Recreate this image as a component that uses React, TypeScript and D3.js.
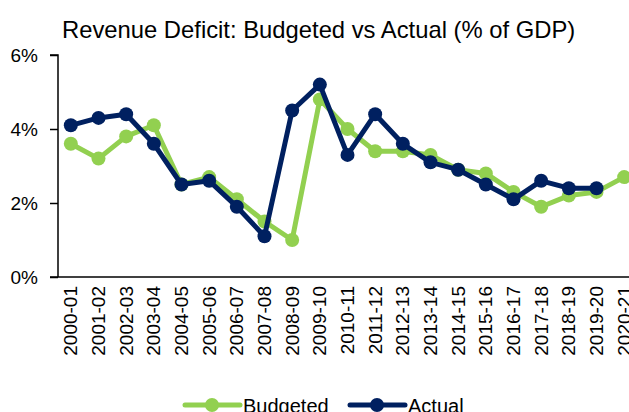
import React, { useEffect, useRef } from 'react'
import * as d3 from 'd3'

const years = [
  '2000-01', '2001-02', '2002-03', '2003-04', '2004-05', '2005-06', '2006-07',
  '2007-08', '2008-09', '2009-10', '2010-11', '2011-12', '2012-13', '2013-14',
  '2014-15', '2015-16', '2016-17', '2017-18', '2018-19', '2019-20', '2020-21'
]
const budgeted = [3.6, 3.2, 3.8, 4.1, 2.5, 2.7, 2.1, 1.5, 1.0, 4.8, 4.0, 3.4, 3.4, 3.3, 2.9, 2.8, 2.3, 1.9, 2.2, 2.3, 2.7]
const actual = [4.1, 4.3, 4.4, 3.6, 2.5, 2.6, 1.9, 1.1, 4.5, 5.2, 3.3, 4.4, 3.6, 3.1, 2.9, 2.5, 2.1, 2.6, 2.4, 2.4, null]
const yTicks = [0, 2, 4, 6]

const GREEN = '#92d050'
const NAVY = '#002060'

const App = () => {
  const ref = useRef<SVGSVGElement>(null)

  useEffect(() => {
    const svg = d3.select(ref.current)
    svg.selectAll('*').remove()

    const font = 'Liberation Sans, Arial, sans-serif'
    const x = d3.scaleBand().domain(years).range([57, 638])
    const y = d3.scaleLinear().domain([0, 6]).range([277, 55])
    const cx = (d: string) => (x(d) as number) + x.bandwidth() / 2

    // title
    svg.append('text')
      .attr('x', 62).attr('y', 38)
      .style('font-family', font).style('font-size', '23.8px')
      .attr('fill', '#000')
      .text('Revenue Deficit: Budgeted vs Actual (% of GDP)')

    // y axis
    const yAxis = svg.append('g')
      .attr('transform', 'translate(58,0)')
      .call(d3.axisLeft(y).tickValues(yTicks).tickSize(8).tickPadding(12).tickFormat(d => `${d}%`))
    yAxis.select('.domain').attr('stroke', '#000').attr('stroke-width', 1.5).attr('d', 'M-8,55H0V277')
    yAxis.selectAll('.tick line').attr('stroke', '#000').attr('stroke-width', 1.5)
    yAxis.selectAll('.tick text').style('font-family', font).style('font-size', '19px').attr('fill', '#000')

    // x axis
    const xAxis = svg.append('g')
      .attr('transform', 'translate(0,277)')
      .call(d3.axisBottom(x).tickSize(0).tickPadding(0))
    xAxis.select('.domain').attr('stroke', '#000').attr('stroke-width', 1.5).attr('d', 'M50,0H629')
    xAxis.selectAll('.tick text')
      .style('font-family', font).style('font-size', '19px').attr('fill', '#000')
      .attr('transform', 'rotate(-90)')
      .attr('x', -9).attr('y', 0).attr('dy', '0.35em')
      .style('text-anchor', 'end')

    // lines
    const series = [
      { name: 'Budgeted', values: budgeted, color: GREEN },
      { name: 'Actual', values: actual, color: NAVY }
    ]
    const line = d3.line<number | null>()
      .defined(d => d != null)
      .x((_, i) => cx(years[i]))
      .y(d => y(d as number))

    series.forEach(s => {
      svg.append('path')
        .datum(s.values)
        .attr('fill', 'none')
        .attr('stroke', s.color)
        .attr('stroke-width', 5)
        .attr('stroke-linejoin', 'round')
        .attr('d', line)
      svg.selectAll(null)
        .data(s.values.map((v, i) => ({ v, i })).filter(d => d.v != null))
        .enter()
        .append('circle')
        .attr('cx', d => cx(years[d.i]))
        .attr('cy', d => y(d.v as number))
        .attr('r', 7)
        .attr('fill', s.color)
    })

    // legend
    const legend = [
      { name: 'Budgeted', color: GREEN, x: 185 },
      { name: 'Actual', color: NAVY, x: 350 }
    ]
    legend.forEach(l => {
      svg.append('line')
        .attr('x1', l.x).attr('x2', l.x + 55).attr('y1', 405).attr('y2', 405)
        .attr('stroke', l.color).attr('stroke-width', 5).attr('stroke-linecap', 'round')
      svg.append('circle').attr('cx', l.x + 27).attr('cy', 405).attr('r', 7).attr('fill', l.color)
      svg.append('text')
        .attr('x', l.x + 58).attr('y', 413)
        .style('font-family', font).style('font-size', '20px').attr('fill', '#000')
        .text(l.name)
    })
  }, [])

  return (
    <svg ref={ref} width={629} height={412}
      style={{ position: 'absolute', left: 0, top: 0, background: '#fff' }} />
  )
}

export default App
